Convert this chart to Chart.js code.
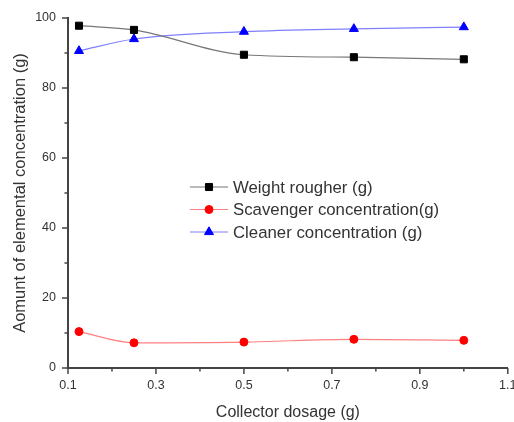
<!DOCTYPE html>
<html>
<head>
<meta charset="utf-8">
<script src="https://cdn.jsdelivr.net/npm/chart.js@4.4.0/dist/chart.umd.min.js"></script>
<style>
  html, body { margin:0; padding:0; background:#fff; }
  #wrap { width:514px; height:422px; position:relative; }
</style>
</head>
<body>
<div id="wrap"><canvas id="chart" width="514" height="422"></canvas></div>
<script>
// data
const dosage = [0.125, 0.25, 0.5, 0.75, 1.0];
const weightRougher = [97.8, 96.6, 89.5, 88.8, 88.2];
const scavenger = [10.4, 7.2, 7.4, 8.2, 7.9];
const cleaner = [90.6, 94.0, 96.1, 96.9, 97.4];
const xTicks = [0.1, 0.3, 0.5, 0.7, 0.9, 1.1];
const yTicks = [0, 20, 40, 60, 80, 100];

const FONT = "'Liberation Sans', Arial, sans-serif";
const AXIS = "#444";

const series = [
  { label:"Weight rougher (g)", data:weightRougher, line:"#777", point:"#000", style:"rect", r:5 },
  { label:"Scavenger concentration(g)", data:scavenger, line:"#ff8080", point:"#ff0000", style:"circle", r:4 },
  { label:"Cleaner concentration (g)", data:cleaner, line:"#7f7fff", point:"#0000ff", style:"triangle", r:5.2 }
];

// axis ticks (major + minor) and legend inside plot
const extras = {
  id:"extras",
  afterDraw(chart){
    const ctx = chart.ctx, xs = chart.scales.x, ys = chart.scales.y;
    ctx.save();
    ctx.strokeStyle = AXIS; ctx.lineWidth = 1.5;
    for(let k=1; k<=11; k++){
      const v = k/10, px = xs.getPixelForValue(v), len = (k%2) ? 6 : 3.5;
      ctx.beginPath(); ctx.moveTo(px, ys.bottom); ctx.lineTo(px, ys.bottom+len); ctx.stroke();
    }
    for(let v=0; v<=100; v+=10){
      const py = ys.getPixelForValue(v), len = (v%20) ? 3.5 : 6;
      ctx.beginPath(); ctx.moveTo(xs.left, py); ctx.lineTo(xs.left-len, py); ctx.stroke();
    }
    // legend
    const lx = 190, ly = 187, gap = 22.5;
    ctx.font = "16.8px " + FONT;
    ctx.textBaseline = "middle";
    series.forEach((s, i)=>{
      const y = ly + i*gap;
      ctx.strokeStyle = s.line; ctx.lineWidth = 1.2;
      ctx.beginPath(); ctx.moveTo(lx, y); ctx.lineTo(lx+38, y); ctx.stroke();
      ctx.fillStyle = s.point; ctx.strokeStyle = s.point; ctx.lineWidth = 1;
      Chart.helpers.drawPoint(ctx, { pointStyle:s.style, radius:s.r, rotation:0, borderWidth:1 }, lx+19, y);
      ctx.fillStyle = "#333";
      ctx.fillText(s.label, lx+43, y+1);
    });
    ctx.restore();
  }
};

new Chart(document.getElementById("chart"), {
  type:"line",
  data:{
    datasets: series.map(s=>({
      label:s.label,
      data: dosage.map((x,i)=>({x:x, y:s.data[i]})),
      borderColor:s.line,
      borderWidth:1.2,
      backgroundColor:s.point,
      pointBackgroundColor:s.point,
      pointBorderColor:s.point,
      pointBorderWidth:1,
      pointStyle:s.style,
      pointRadius:s.r,
      cubicInterpolationMode:"monotone",
      fill:false
    }))
  },
  options:{
    responsive:false,
    animation:false,
    layout:{ padding:{ top:18, right:5, left:0, bottom:0 } },
    plugins:{ legend:{ display:false }, tooltip:{ enabled:false } },
    scales:{
      x:{
        type:"linear", min:0.1, max:1.1,
        afterBuildTicks(scale){ scale.ticks = xTicks.map(v=>({value:v})); },
        afterFit(scale){ scale.height = 54; scale.paddingRight = 0; scale.paddingLeft = 0; },
        ticks:{ callback:v=>v.toFixed(1), color:"#333", font:{ family:FONT, size:12.5 }, padding:10, maxRotation:0 },
        grid:{ display:false, drawTicks:false },
        border:{ display:true, color:AXIS, width:2 },
        title:{ display:true, text:"Collector dosage (g)", color:"#333", font:{ family:FONT, size:16 }, padding:{ top:4, bottom:0 } }
      },
      y:{
        type:"linear", min:0, max:100,
        afterBuildTicks(scale){ scale.ticks = yTicks.map(v=>({value:v})); },
        afterFit(scale){ scale.width = 68; scale.paddingTop = 0; scale.paddingBottom = 0; },
        ticks:{ color:"#333", font:{ family:FONT, size:12.5 }, padding:12 },
        grid:{ display:false, drawTicks:false },
        border:{ display:true, color:AXIS, width:2 },
        title:{ display:true, text:"Aomunt of elemental concentration (g)", color:"#333", font:{ family:FONT, size:16.5 }, padding:{ top:11, bottom:0 } }
      }
    }
  },
  plugins:[extras]
});
</script>
</body>
</html>
